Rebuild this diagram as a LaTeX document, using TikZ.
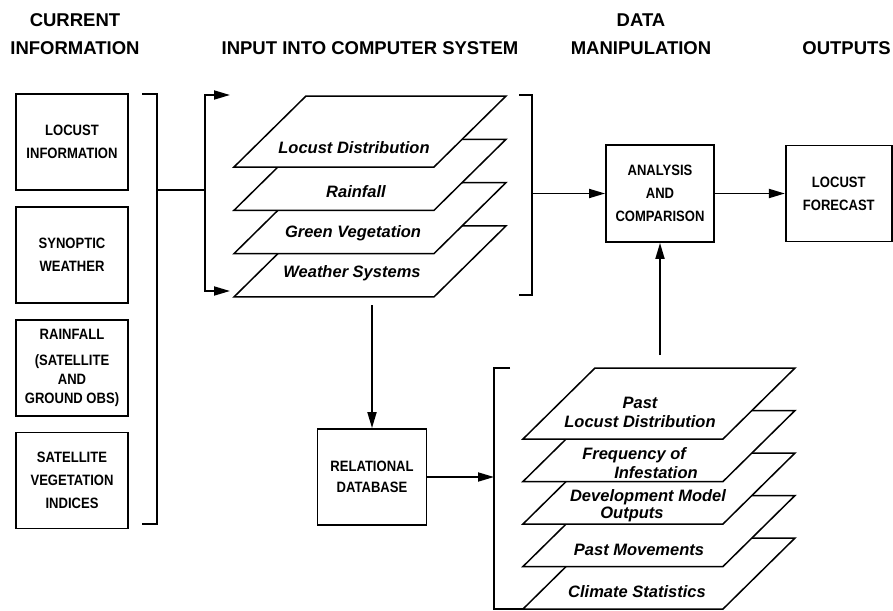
\documentclass[tikz,border=0pt]{standalone}
\usepackage{fontspec}
\setmainfont{Liberation Sans}
\newfontfamily\boxfont{Liberation Sans}[FakeStretch=0.87]
\usetikzlibrary{arrows.meta, positioning}

\begin{document}
\begin{tikzpicture}[
    x=1pt, y=-1pt,
    head/.style={font=\bfseries\fontsize{18.5}{28}\selectfont, align=center},
    box/.style={rectangle, draw, line width=1.8pt, align=center,
                minimum width=110pt, minimum height=96pt,
                font=\boxfont\bfseries\fontsize{15}{23}\selectfont},
    layer/.style={draw, fill=white, line width=1.5pt},
    lbl/.style={font=\bfseries\itshape\fontsize{16.5}{19}\selectfont, align=center},
    brk/.style={line width=1.8pt},
    arr/.style={-{Triangle[length=16pt, width=9pt]}, line width=1.8pt}
]
\useasboundingbox (0,0) rectangle (893,610);

\node[head] (hcur)  at (75,34)  {CURRENT\\INFORMATION};
\node[head] (hin)   at (370,48) {INPUT INTO COMPUTER SYSTEM};
\node[head] (hdata) at (641,34) {DATA\\MANIPULATION};
\node[head, anchor=east, inner sep=1pt] (hout) at (892,48) {OUTPUTS};

\node[box, minimum width=112pt] (locinfo) at (72,142) {LOCUST\\INFORMATION};
\node[box, minimum width=112pt, below=15pt of locinfo]  (synoptic) {SYNOPTIC\\WEATHER};
\node[box, minimum width=112pt, below=15pt of synoptic] (rainobs)  {RAINFALL\\[3pt](SATELLITE\\[-4pt]AND\\[-4pt]GROUND OBS)};
\node[box, minimum width=112pt, below=15pt of rainobs]  (satveg)   {SATELLITE\\VEGETATION\\INDICES};

\draw[brk] (142,94) -- (157,94) -- (157,524) -- (142,524);
\coordinate (lbrk) at (157,190);
\coordinate (fork) at (205,190);
\coordinate (intop) at (230,95);
\coordinate (inbot) at (230,291);
\draw[brk] (lbrk) -- (fork);
\draw[arr] (fork) |- (intop);
\draw[arr] (fork) |- (inbot);

\foreach \i in {3,2,1,0}
  \filldraw[layer] (306,{96+43.3*\i}) -- ++(200,0) -- ++(-72,71) -- ++(-200,0) -- cycle;
\node[lbl] (ldist)    at (354,148) {Locust Distribution};
\node[lbl] (lrain)    at (356,192) {Rainfall};
\node[lbl] (lgreen)   at (353,233) {Green Vegetation};
\node[lbl] (lweather) at (352,273) {Weather Systems};

\draw[brk] (519,95) -- (532,95) -- (532,295) -- (519,295);
\coordinate (rbrk) at (532,193.5);

\node[box, minimum width=108pt, minimum height=97pt] (analysis) at (660,193.5) {ANALYSIS\\AND\\COMPARISON};
\node[box, minimum width=106pt, right=70pt of analysis] (forecast) {LOCUST\\FORECAST};

\draw[arr] (rbrk) -- (analysis);
\draw[arr] (analysis) -- (forecast);

\node[box, minimum width=109pt] (reldb) at (372,477) {RELATIONAL\\[-2pt]DATABASE};
\coordinate (stackout) at (372,305);
\draw[arr] (stackout) -- (reldb);

\draw[brk] (510,368) -- (494,368) -- (494,609) -- (523,609);
\coordinate (lowbrk) at (494,477);
\draw[arr] (reldb) -- (lowbrk);

\foreach \j in {4,3,2,1,0}
  \filldraw[layer] (595,{368+42.5*\j}) -- ++(200,0) -- ++(-72,71) -- ++(-200,0) -- cycle;
\node[lbl] (lpast) at (640,412) {Past\\Locust Distribution};
\node[lbl, align=left] (lfreq) at (640,463) {Frequency of\\\hspace*{32pt}Infestation};
\node[lbl] (ldev)  at (648,505.5) {Development Model\\[-2pt]Outputs\hspace*{32pt}};
\node[lbl] (lmove) at (639,550) {Past Movements};
\node[lbl] (lclim) at (637,592) {Climate Statistics};

\coordinate (pastout) at (660,355);
\draw[arr] (pastout) -- (analysis);
\end{tikzpicture}
\end{document}
